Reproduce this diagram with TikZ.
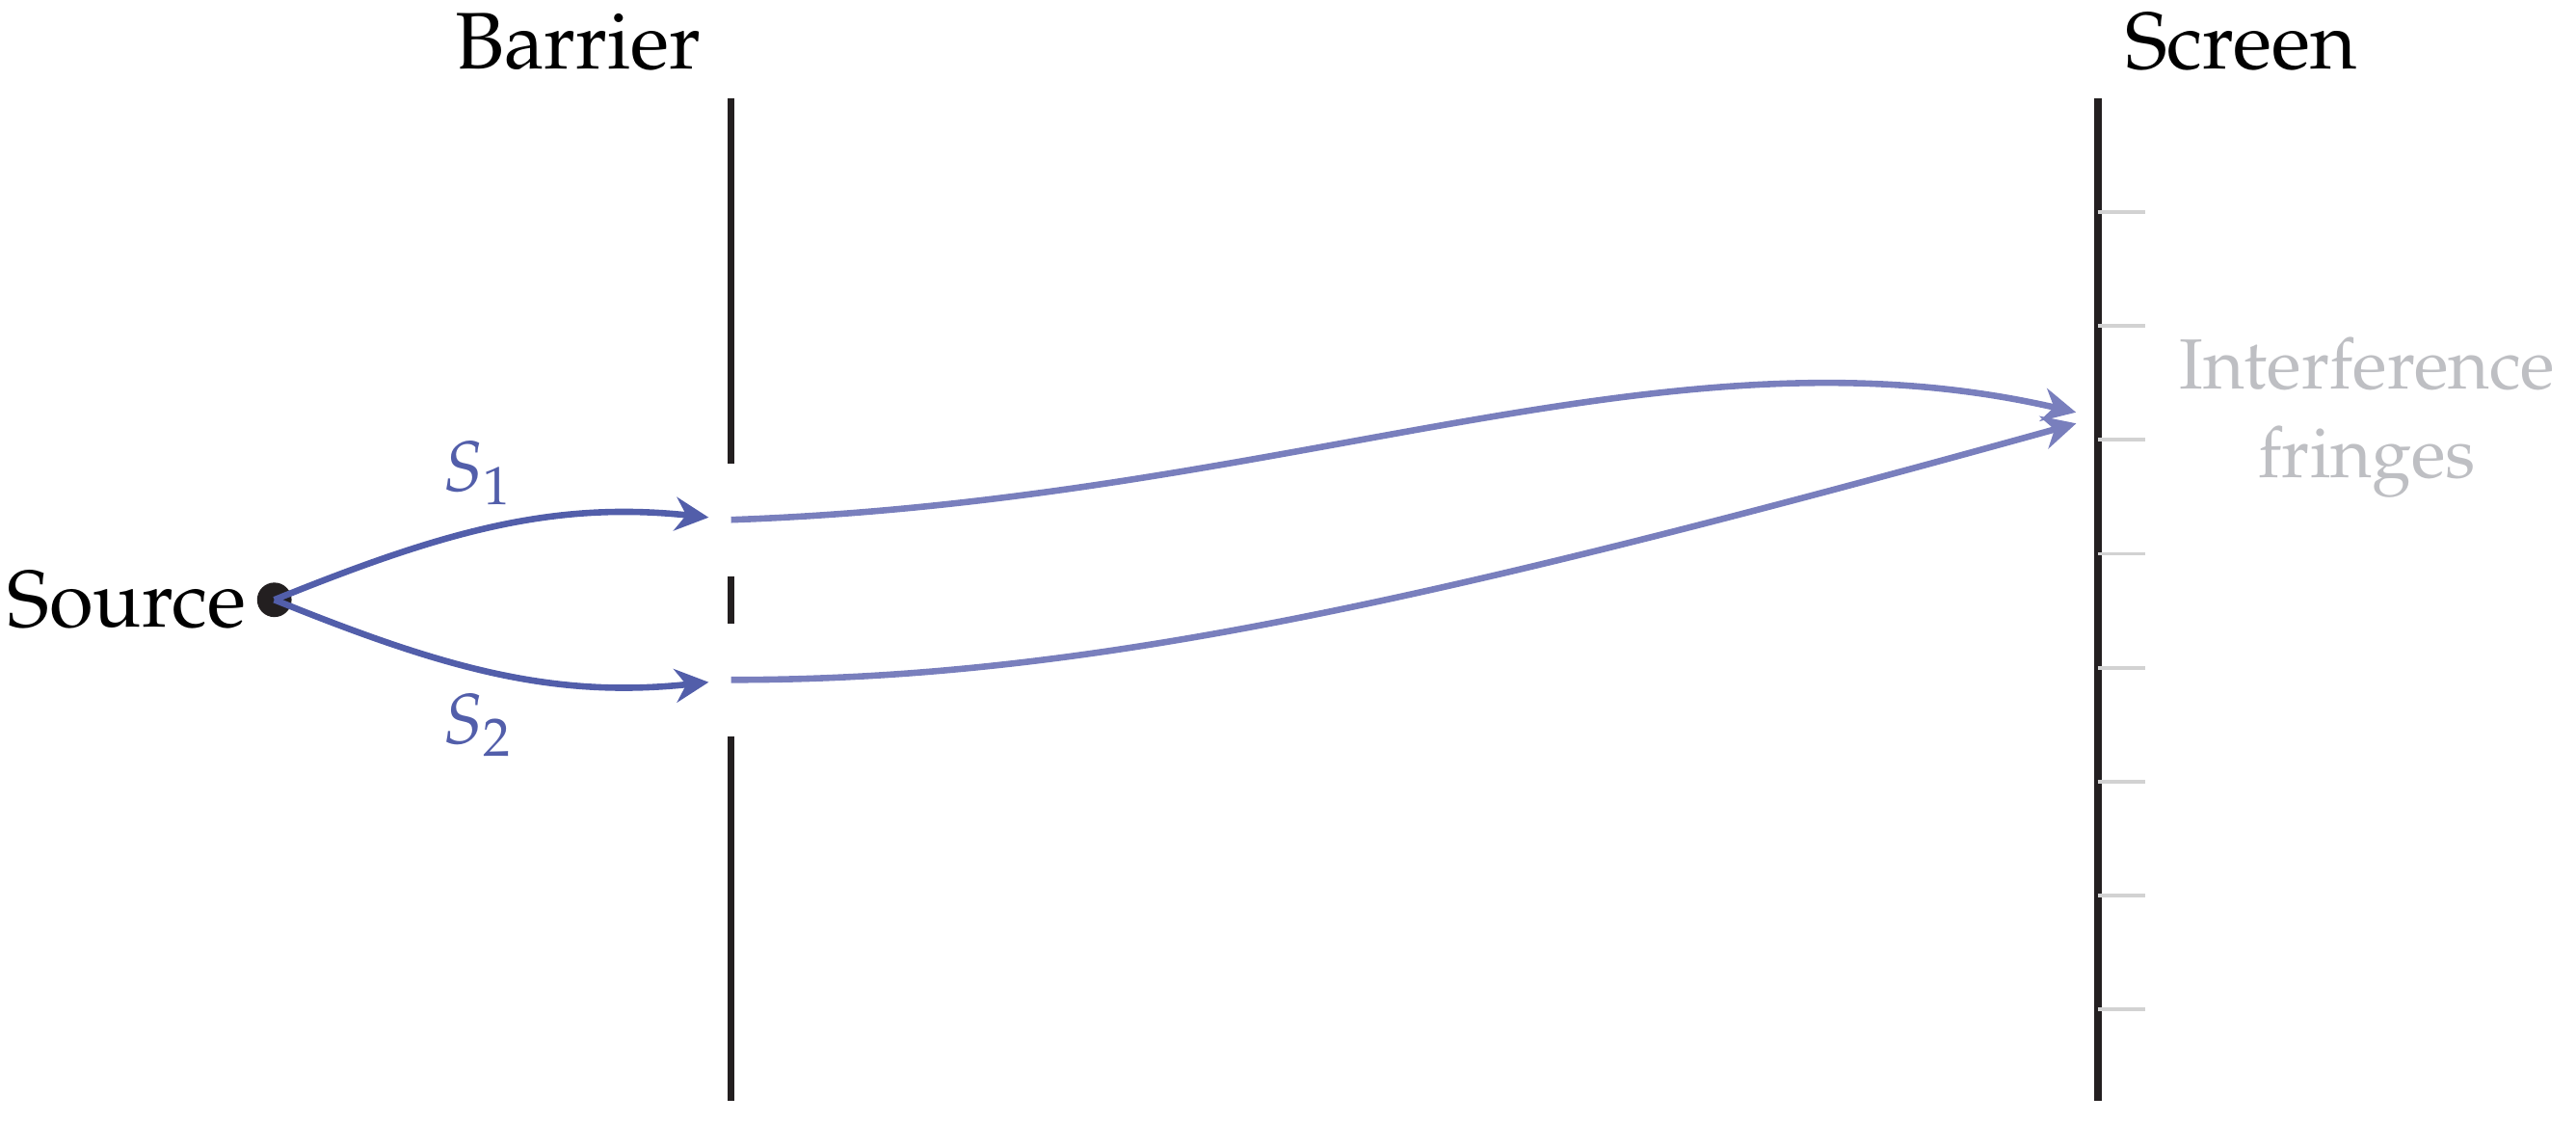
\documentclass[tikz,border=0pt]{standalone}
\usepackage[T1]{fontenc}
\usepackage{mathpazo}
\usetikzlibrary{arrows.meta, positioning}

\definecolor{wavedark}{RGB}{82,94,170}
\definecolor{wavelight}{RGB}{121,127,189}
\definecolor{wallcol}{RGB}{35,31,32}
\definecolor{fringecol}{RGB}{190,191,195}
\definecolor{tickcol}{RGB}{210,210,210}

\tikzset{
  wall/.style={line width=1.25pt, wallcol},
  ray/.style={line width=1.1pt, -{Stealth[length=5.8pt,width=5.8pt,inset=1.9pt]}, shorten >=3.9pt},
  fringetick/.style={line width=0.65pt, tickcol},
  biglabel/.style={font=\fontsize{13.9}{16.5}\selectfont},
}

\begin{document}
\begin{tikzpicture}[font=\fontsize{12.3}{15.3}\selectfont]
\useasboundingbox (-1.67,-3.18) rectangle (14.01,3.65);

\coordinate (bartop) at (2.78,3.05);
\coordinate (scrtop) at (11.1,3.05);
\coordinate (slitA) at (2.78,0.487);
\coordinate (slitB) at (2.78,-0.487);
\coordinate (fringe) at (11.1,1.11);

% barrier with two slits
\draw[wall] (bartop) -- (2.78,0.83);
\draw[wall] (2.78,0.145) -- (2.78,-0.145);
\draw[wall] (2.78,-0.83) -- (2.78,-3.05);
\node[biglabel, anchor=base] (barlabel) at (1.85,3.23) {Barrier};

% screen
\draw[wall] (scrtop) -- (11.1,-3.05);
\foreach \k in {0,...,7}
  \draw[fringetick] (11.1,2.36-0.6934*\k) -- +(0.29,0);
\node[biglabel, anchor=base] (scrlabel) at (11.97,3.23) {Screen};
\node[fringecol, align=center, right=0.37cm of fringe] (fringelabel) {Interference\\fringes};

% source
\node[circle, fill=wallcol, inner sep=0pt, minimum size=0.21cm] (source) at (0,0) {};
\node[biglabel, left=0pt of source, inner sep=1.5pt] (sourcelabel) {Source};

\draw[ray, wavedark] (source.center) to[out=22, in=174] (slitA);
\draw[ray, wavedark] (source.center) to[out=-22, in=186] (slitB);
\node[wavedark, anchor=base] (labA) at (1.24,0.66) {$S_1$};
\node[wavedark, anchor=base] (labB) at (1.24,-0.877) {$S_2$};

\draw[ray, wavelight] (slitA) to[out=2, in=167, out looseness=1.05, in looseness=0.83] (fringe);
\draw[ray, wavelight] (slitB) to[out=0, in=195.5, out looseness=0.63, in looseness=1.31] (fringe);

\end{tikzpicture}
\end{document}
